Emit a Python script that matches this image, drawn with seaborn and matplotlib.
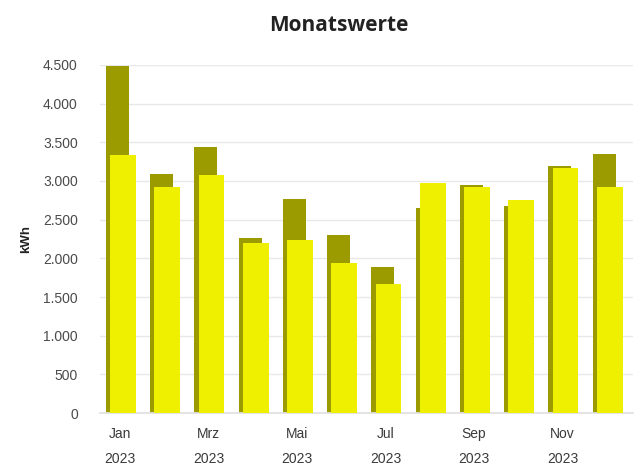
#!/usr/bin/env python3
"""
Monatswerte 2023 - zwei überlagerte Balkenreihen pro Monat
"""

import numpy as np
import pandas as pd
import matplotlib
matplotlib.use("Agg")
import matplotlib.pyplot as plt
import seaborn as sns
from matplotlib.ticker import FuncFormatter

# Daten
monate = ["Jan", "Feb", "Mrz", "Apr", "Mai", "Jun",
          "Jul", "Aug", "Sep", "Okt", "Nov", "Dez"]
werte_dunkel = [4490, 3090, 3440, 2265, 2765, 2300, 1890, 2650, 2950, 2680, 3195, 3350]
werte_hell = [3340, 2920, 3080, 2200, 2240, 1940, 1670, 2970, 2920, 2755, 3170, 2920]
tick_monate = ["Jan", "Mrz", "Mai", "Jul", "Sep", "Nov"]
jahr = "2023"

sns.set_theme(style="white")
plt.rcParams["font.family"] = ["Liberation Sans", "DejaVu Sans"]

fig = plt.figure(figsize=(6.41, 4.70), dpi=100)
ax = fig.add_axes([0.156, 0.121, 0.832, 0.741])

idx = np.arange(len(monate))
df_dunkel = pd.DataFrame({"x": idx - 0.06, "kWh": werte_dunkel})
df_hell = pd.DataFrame({"x": idx + 0.07, "kWh": werte_hell})

sns.barplot(data=df_dunkel, x="x", y="kWh", native_scale=True, width=0.52,
            color="#9b9b00", saturation=1, linewidth=0, ax=ax, zorder=2)
sns.barplot(data=df_hell, x="x", y="kWh", native_scale=True, width=0.58,
            color="#eef000", saturation=1, linewidth=0, ax=ax, zorder=3)

ax.set_xlim(-0.45, 11.6)
ax.set_ylim(0, 4500)
ax.set_yticks(np.arange(0, 4501, 500))
ax.yaxis.set_major_formatter(FuncFormatter(lambda v, p: f"{int(v):,}".replace(",", ".")))
ax.grid(axis="y", color="#e8e8e8", linewidth=1, zorder=0)
ax.set_axisbelow(True)

tick_pos = [monate.index(m) for m in tick_monate]
ax.set_xticks(tick_pos)
ax.set_xticklabels([f"{m}\n{jahr}" for m in tick_monate], linespacing=2.0)
ax.tick_params(axis="x", length=0, pad=10, labelsize=10, labelcolor="#3a3a3a")
ax.tick_params(axis="y", length=0, pad=16, labelsize=10, labelcolor="#4a4a4a")

for s in ["top", "right", "left"]:
    ax.spines[s].set_visible(False)
ax.spines["bottom"].set_color("#e0e0e0")

ax.set_xlabel("")
ax.set_ylabel("kWh", fontsize=9.5, fontweight="bold", color="#222222", labelpad=8)

fig.text(0.529, 0.945, "Monatswerte", ha="center", va="center",
         fontsize=15, fontweight="bold", color="#222222", family=["Open Sans", "DejaVu Sans"])

plt.savefig("out.png", dpi=100)
plt.close()
